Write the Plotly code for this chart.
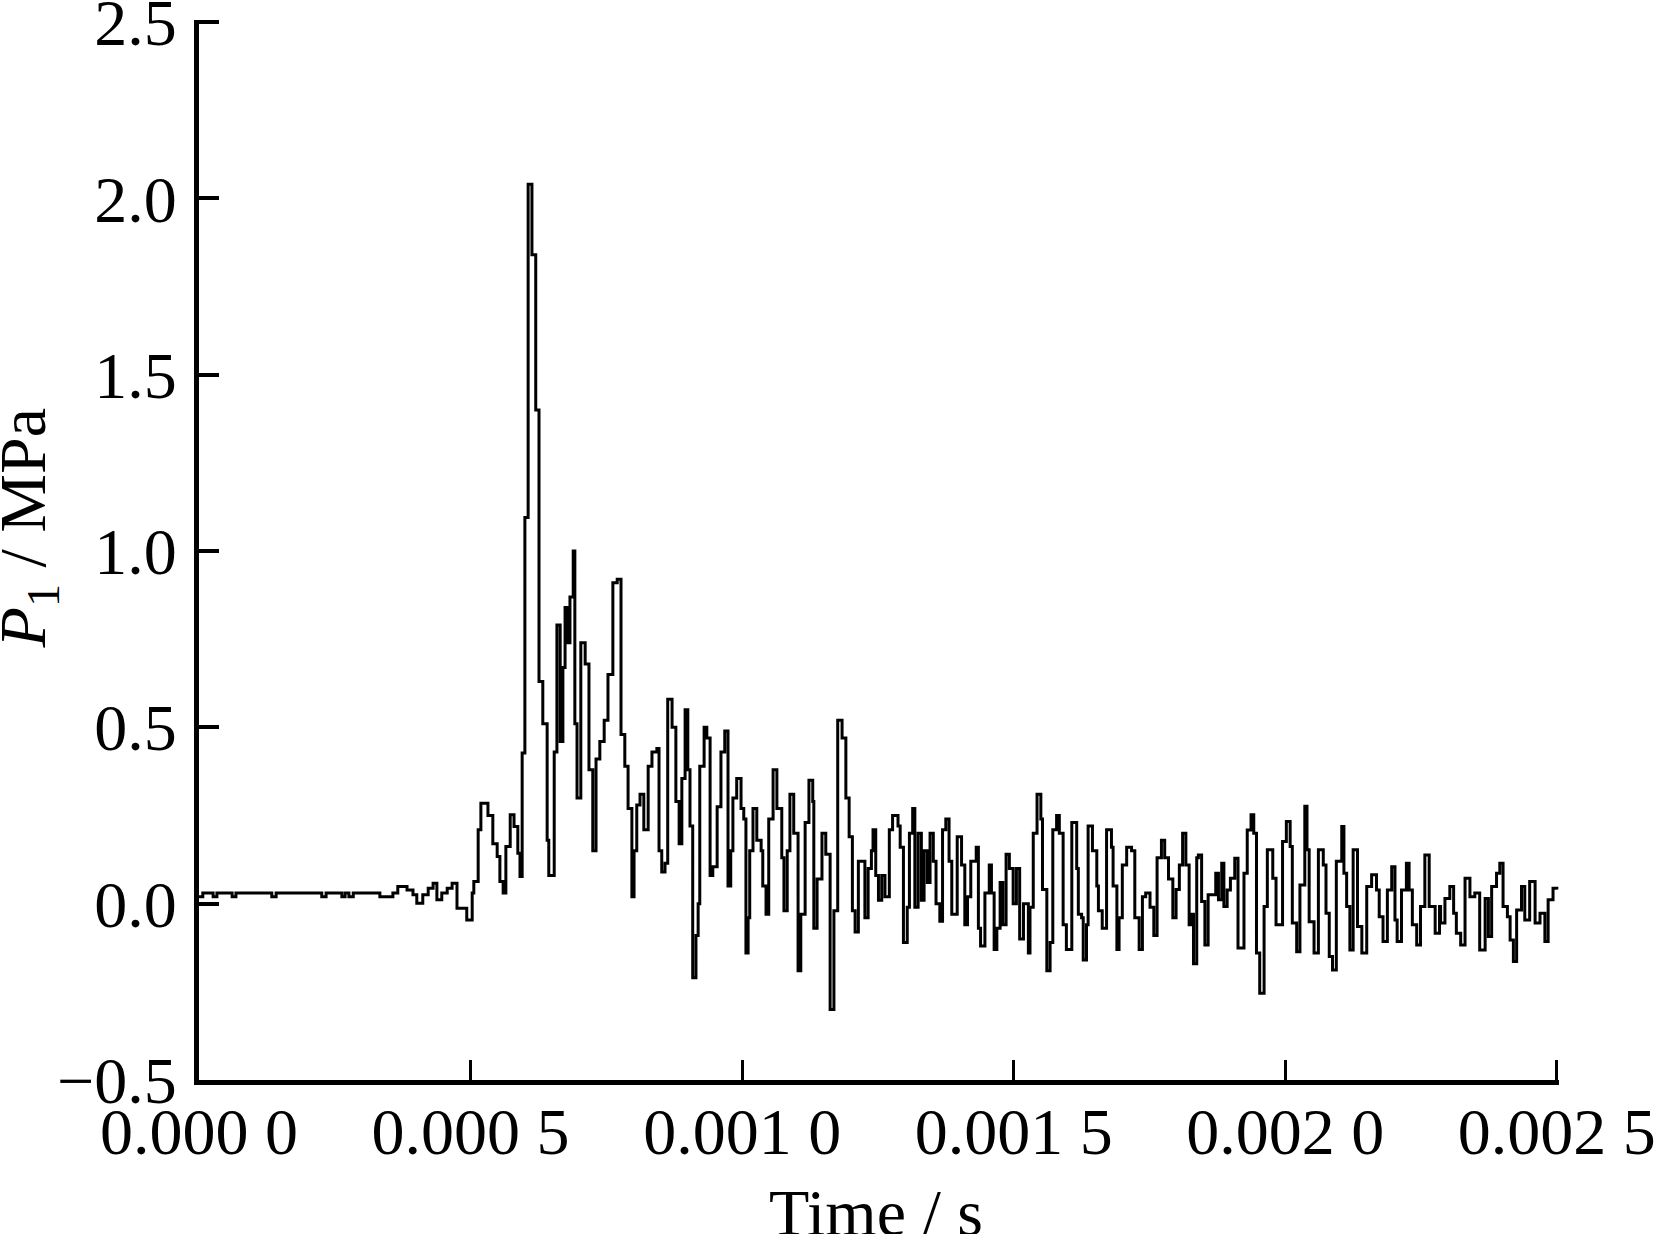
import plotly.graph_objects as go

# Time (microseconds) and pressure P1 (MPa)
time_us = [
    0, 7, 26, 33, 61, 68, 134, 142, 226, 234, 263, 269, 276, 284, 333, 357,
    366, 383, 394, 401, 412, 422, 431, 438, 447, 457, 466, 475, 493, 503, 506,
    514, 519, 532, 541, 549, 554, 560, 565, 573, 580, 587, 591, 595, 600, 606,
    613, 620, 626, 633, 641, 644, 654, 659, 665, 670, 674, 679, 683, 689, 692,
    696, 703, 711, 718, 725, 731, 738, 746, 753, 762, 770, 777, 784, 790, 797,
    801, 806, 812, 819, 827, 834, 843, 847, 852, 858, 863, 871, 878, 884, 889,
    895, 900, 904, 909, 915, 919, 922, 930, 935, 941, 946, 954, 961, 968, 974,
    979, 983, 990, 998, 1003, 1007, 1011, 1014, 1020, 1027, 1035, 1038, 1044,
    1049, 1057, 1064, 1073, 1077, 1083, 1088, 1095, 1103, 1108, 1116, 1123,
    1130, 1132, 1138, 1147, 1154, 1162, 1169, 1176, 1184, 1191, 1197,
    1199, 1203, 1208, 1214, 1226, 1232, 1238, 1241, 1246, 1251, 1257, 1263,
    1271, 1277, 1287, 1291, 1297, 1304, 1308, 1314, 1318, 1324, 1330, 1335,
    1341, 1346, 1352, 1357, 1364, 1369, 1375, 1381, 1386, 1396, 1404, 1410,
    1415, 1421, 1431, 1435, 1439, 1447, 1455, 1459, 1464, 1469, 1475, 1480,
    1486, 1492, 1499, 1505, 1511, 1518, 1527, 1530, 1536, 1543, 1550, 1553,
    1561, 1567, 1572, 1579, 1584, 1591, 1597, 1607, 1616, 1619, 1625, 1628,
    1634, 1637, 1645, 1653, 1656, 1663, 1671, 1680, 1683, 1690, 1694, 1700,
    1708, 1717, 1723, 1731, 1737, 1743, 1751, 1758, 1764, 1772, 1778, 1785,
    1793, 1799, 1805, 1811, 1817, 1823, 1828, 1831, 1837,
    1840, 1846, 1852, 1858, 1872, 1877, 1883, 1887, 1893, 1899, 1907, 1913,
    1924, 1930, 1937, 1942, 1947, 1953, 1961, 1967, 1977, 1983, 1995, 2002,
    2009, 2013, 2021, 2027, 2036, 2040, 2044, 2053, 2061, 2070, 2075, 2081,
    2087, 2094, 2104, 2108, 2113, 2119, 2125, 2133, 2141, 2150, 2159, 2168,
    2173, 2180, 2188, 2196, 2202, 2206, 2214, 2223, 2228, 2234, 2242, 2249,
    2257, 2265, 2276, 2284, 2286, 2294, 2303, 2310, 2315, 2323, 2331, 2340,
    2349, 2358, 2368, 2374, 2380, 2389, 2395, 2401, 2409, 2414, 2420, 2426,
    2435, 2441, 2450, 2460, 2469, 2478, 2484, 2493, 2500,
]

pressure_mpa = [
    0.02, 0.03, 0.02, 0.03, 0.02, 0.03, 0.02, 0.03, 0.02, 0.03, 0.02, 0.03,
    0.02, 0.03, 0.02, 0.03,
    0.049, 0.039, 0.025, 0.001, 0.025, 0.044, 0.058, 0.011, 0.03, 0.044,
    0.058, -0.013, -0.046, 0.03, 0.063,
    0.21, 0.285, 0.25, 0.17, 0.134, 0.063, 0.03, 0.162, 0.252, 0.219, 0.143,
    0.077, 0.427, 1.095, 2.04,
    1.84, 1.40, 0.63, 0.51, 0.18, 0.08, 0.43, 0.79, 0.46, 0.67, 0.84, 0.74,
    0.87, 1.00, 0.51,
    0.30, 0.74, 0.68, 0.38, 0.15, 0.41, 0.46, 0.52, 0.65, 0.91, 0.92, 0.48,
    0.39, 0.27, 0.02,
    0.15, 0.28, 0.31, 0.21, 0.39, 0.43, 0.44, 0.15, 0.09, 0.115, 0.58, 0.50,
    0.29, 0.17, 0.355,
    0.55, 0.38, 0.22, -0.21, -0.09, 0.0, 0.39, 0.50, 0.47, 0.08, 0.105, 0.275,
    0.43, 0.49, 0.05,
    0.15, 0.30, 0.355, 0.27, 0.24, -0.14, -0.04, 0.15, 0.27, 0.18, 0.15, 0.05,
    -0.03,
    0.24, 0.38, 0.27, 0.13, -0.02, 0.15, 0.31, 0.20, -0.19, -0.03, 0.23,
    0.35, 0.29, -0.07, 0.07, 0.20, 0.14, -0.30, -0.02, 0.52, 0.47, 0.30, 0.19,
    0.19, -0.02, -0.08, 0.12, -0.04, 0.10, 0.15, 0.21, 0.08, 0.01, 0.08, 0.02,
    0.21, 0.25, 0.22, 0.16, -0.11, -0.01, 0.20, 0.27, -0.01, 0.20, 0.01, 0.15,
    0.06, 0.20, 0.12, 0.0, -0.05, 0.21, 0.24, 0.12, -0.03, 0.19, 0.11, -0.06,
    0.02, 0.12, 0.16, -0.07, -0.12, 0.03, 0.11, 0.03, -0.13, -0.07, 0.06, -0.06,
    0.14, 0.10, 0.0, 0.10, -0.10, 0.0, -0.14, -0.01, 0.20, 0.31, 0.24, 0.04,
    -0.19, -0.11, 0.21, 0.25, 0.20, -0.06, -0.13, 0.23, 0.10, -0.03, -0.04, -0.16,
    -0.06, 0.22, 0.15, 0.05, -0.02, -0.07, 0.21, 0.16, 0.05, -0.13, -0.04, 0.11,
    0.16, 0.15, -0.04, -0.13, 0.02, 0.03, -0.01, -0.09, 0.13, 0.18, 0.13, 0.07,
    -0.04, 0.04, 0.11, 0.20, 0.11, -0.06, -0.03, -0.17, 0.13,
    0.138, 0.006, -0.117, 0.025, 0.086, 0.011, 0.115, -0.008, 0.039, 0.072,
    0.129, -0.126, 0.086, 0.209, 0.252, 0.20, -0.14, -0.254, -0.008, 0.153,
    0.072, -0.06, 0.176, 0.233, 0.162, -0.055, -0.136, 0.053, 0.276, 0.153,
    -0.051, -0.14, 0.153, 0.11, -0.027, -0.15, -0.188, 0.12, 0.219, 0.086,
    -0.008, -0.131, 0.153, -0.065, -0.14, 0.049, 0.082, 0.039, -0.037, -0.107,
    0.039, 0.105, -0.046, -0.107, 0.039, 0.115, 0.039, -0.06, -0.117, -0.008,
    0.138, -0.008, -0.084, -0.008, -0.055, 0.015, 0.049, -0.027, -0.084,
    -0.117, 0.072, 0.02, 0.03, -0.131, 0.015, -0.093, 0.049, 0.086, 0.115,
    -0.008, -0.037, -0.103, -0.164, -0.018, 0.049, -0.046, 0.063, -0.055,
    -0.027, -0.107, 0.011, 0.044, 0.04,
]

x_tickvals = [0.0, 0.0005, 0.0010, 0.0015, 0.0020, 0.0025]
x_ticktext = ["0.000 0", "0.000 5", "0.001 0", "0.001 5", "0.002 0", "0.002 5"]
y_tickvals = [-0.5, 0.0, 0.5, 1.0, 1.5, 2.0, 2.5]
y_ticktext = ["\u22120.5", "0.0", "0.5", "1.0", "1.5", "2.0", "2.5"]

time_s = [t * 1e-6 for t in time_us]

FONT = "Liberation Serif, Times New Roman, serif"

fig = go.Figure()
fig.add_trace(go.Scatter(
    x=time_s, y=pressure_mpa, mode="lines",
    line=dict(color="black", width=3, shape="hv"),
    showlegend=False, hoverinfo="skip",
))

fig.update_layout(
    template="none",
    width=1661, height=1234,
    margin=dict(l=199, r=102, t=20, b=154, pad=0),
    paper_bgcolor="white", plot_bgcolor="white",
    font=dict(family=FONT, color="black", size=66),
    xaxis=dict(
        range=[0, 0.002504], showgrid=False, zeroline=False, automargin=False,
        showline=True, linecolor="black", linewidth=5,
        ticks="inside", ticklen=20, tickwidth=3, tickcolor="black",
        tickvals=x_tickvals, ticktext=x_ticktext,
        tickfont=dict(family=FONT, size=66, color="black"),
        ticklabelstandoff=-10, ticklabeloverflow="allow",
    ),
    yaxis=dict(
        range=[-0.5, 2.506], showgrid=False, zeroline=False, automargin=False,
        showline=True, linecolor="black", linewidth=5,
        ticks="inside", ticklen=20, tickwidth=4, tickcolor="black",
        tickvals=y_tickvals, ticktext=y_ticktext,
        tickfont=dict(family=FONT, size=66, color="black"),
        ticklabelstandoff=4, ticklabeloverflow="allow",
    ),
    annotations=[
        dict(text="Time / s", xref="paper", yref="paper",
             x=0.498, y=-0.161, xanchor="center", yanchor="bottom",
             showarrow=False, font=dict(family=FONT, size=66, color="black")),
        dict(text="<i>P</i><sub>1</sub> / MPa", xref="paper", yref="paper",
             x=-0.126, y=0.520, xanchor="center", yanchor="middle",
             textangle=-90, showarrow=False,
             font=dict(family=FONT, size=66, color="black")),
    ],
)

fig.write_html(
    "out.html",
    config={"displayModeBar": False, "staticPlot": True},
    post_script="document.body.style.margin='0';",
)
